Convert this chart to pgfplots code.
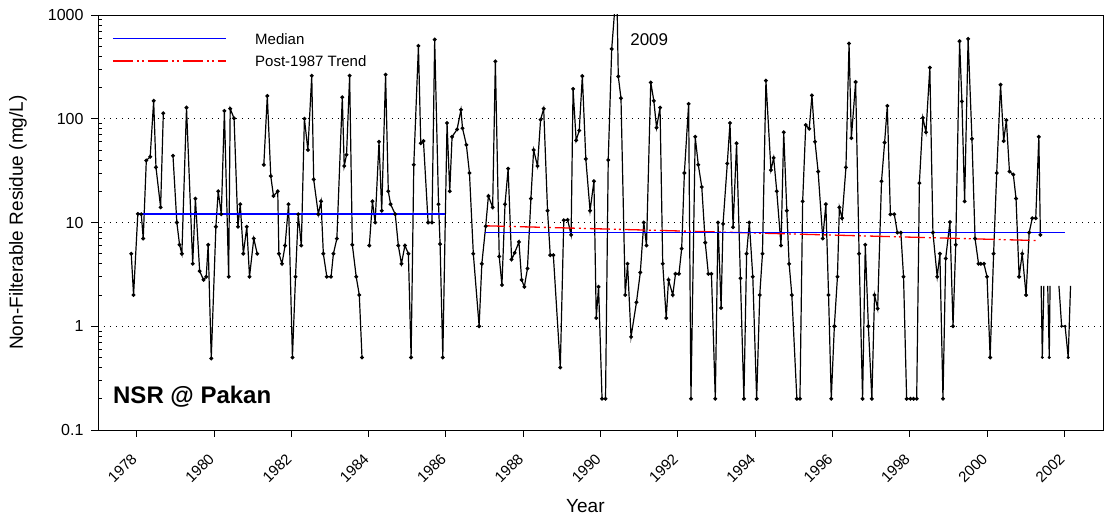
\documentclass[border=0pt]{standalone}
\usepackage{fontspec}
\setmainfont{Liberation Sans}
\usepackage{pgfplots}
\pgfplotsset{compat=1.18}
\definecolor{medblue}{RGB}{0,0,255}
\definecolor{trendred}{RGB}{255,0,0}
\tikzset{trendstyle/.style={trendred, line width=1.3pt, dash pattern=on 20pt off 4pt on 2pt off 3pt on 2pt off 4pt},
         medstyle/.style={medblue, line width=1.1pt}}
\begin{document}
\begin{tikzpicture}
\begin{axis}[
  name=ax,
  scale only axis,
  width=1005pt, height=415pt,
  xmin=1977, xmax=2003,
  ymode=log, ymin=0.1, ymax=1000,
  xtick={1978,1980,1982,1984,1986,1988,1990,1992,1994,1996,1998,2000,2002},
  xticklabels={1978,1980,1982,1984,1986,1988,1990,1992,1994,1996,1998,2000,2002},
  ytick={0.1,1,10,100,1000},
  yticklabels={0.1,1,10,100,1000},
  minor ytick={0.2,0.3,0.4,0.5,0.6,0.7,0.8,0.9,2,3,4,5,6,7,8,9,20,30,40,50,60,70,80,90,200,300,400,500,600,700,800,900},
  xtick pos=bottom, ytick pos=left,
  tick align=outside,
  major tick length=7pt,
  minor tick length=-4pt,
  tick style={black, line width=0.8pt},
  axis line style={black, line width=0.9pt},
  ymajorgrids,
  grid style={black, line width=0.9pt, dash pattern=on 1.1pt off 4.9pt},
  /pgf/number format/assume math mode=true,
  yticklabel style={font=\fontsize{16}{18}\selectfont},
  yticklabel shift=4pt,
  xticklabel style={rotate=45, anchor=east, font=\fontsize{15}{17}\selectfont},
  xticklabel shift=17pt,
  unbounded coords=jump,
  xlabel={Year},
  xlabel style={at={(axis description cs:0.485,-0.183)}, anchor=center, font=\fontsize{19}{21}\selectfont},
  ylabel={Non-Filterable Residue (mg/L)},
  ylabel style={at={(axis description cs:-0.0796,0.5)}, anchor=center, font=\fontsize{19}{21}\selectfont},
]
\addplot[black, line width=1.2pt, mark=*, mark size=1.3pt, mark options={fill=black, solid}] coordinates {
(1977.86,5.0) (1977.92,2.0) (1978.03,12.1) (1978.12,12) (1978.17,7.0) (1978.25,39.6) (1978.35,43) (1978.44,149) (1978.50,34) (1978.62,14) (1978.69,113)
(1978.8,nan)
(1978.94,44) (1979.04,10) (1979.11,6.1) (1979.17,5.0) (1979.29,128) (1979.45,4.0) (1979.52,17) (1979.63,3.4) (1979.73,2.8) (1979.80,3.0) (1979.85,6.1) (1979.93,0.49) (1980.05,9.1) (1980.11,20) (1980.19,12) (1980.27,119) (1980.38,3.0) (1980.42,125) (1980.52,101) (1980.62,9.1) (1980.68,15) (1980.76,5.0) (1980.85,9.1) (1980.92,3.0) (1981.03,7.0) (1981.12,5.0)
(1981.2,nan)
(1981.29,36) (1981.38,166) (1981.47,28) (1981.54,18) (1981.65,20) (1981.68,5.0) (1981.76,4.0) (1981.84,6.0) (1981.93,15) (1982.03,0.5) (1982.11,3.0) (1982.18,12) (1982.26,6.0) (1982.34,100) (1982.43,50) (1982.53,260) (1982.58,26) (1982.70,12) (1982.77,16) (1982.83,5) (1982.92,3) (1983.03,3) (1983.09,5) (1983.18,7) (1983.32,161) (1983.37,35) (1983.43,45) (1983.51,260) (1983.58,6.1) (1983.68,3) (1983.76,2.0) (1983.83,0.5)
(1983.9,nan)
(1984.02,6.0) (1984.10,16) (1984.17,10) (1984.27,60) (1984.34,13) (1984.44,266) (1984.51,20) (1984.57,15) (1984.69,12) (1984.77,6) (1984.85,4) (1984.94,6) (1985.03,5) (1985.10,0.5) (1985.17,36) (1985.29,504) (1985.35,58) (1985.42,61) (1985.54,10) (1985.64,10) (1985.71,580) (1985.81,15) (1985.85,6.2) (1985.92,0.5) (1986.03,91) (1986.10,20) (1986.16,67) (1986.29,79) (1986.39,122) (1986.43,81) (1986.53,56) (1986.61,30) (1986.71,5) (1986.86,1.0) (1986.93,4.0)
(1987.03,9.2) (1987.10,18) (1987.21,14) (1987.28,358) (1987.38,4.7) (1987.45,2.5) (1987.53,15) (1987.61,33) (1987.70,4.4) (1987.78,5.1) (1987.89,6.5) (1987.96,2.8) (1988.03,2.4) (1988.11,3.6) (1988.20,17) (1988.27,50) (1988.37,35) (1988.45,98) (1988.53,125) (1988.63,13) (1988.70,4.85) (1988.78,4.85) (1988.96,0.40) (1989.05,10.5) (1989.15,10.6) (1989.24,7.6) (1989.29,194) (1989.37,62) (1989.45,77) (1989.53,258) (1989.62,41) (1989.73,13) (1989.83,25) (1989.89,1.2) (1989.95,2.4)
(1990.04,0.2) (1990.13,0.2) (1990.20,40) (1990.29,471) (1990.42,2009) (1990.46,256) (1990.53,158) (1990.64,2.0) (1990.70,4.0) (1990.79,0.79) (1990.93,1.7) (1991.03,3.3) (1991.12,10) (1991.19,6) (1991.30,224) (1991.38,149) (1991.45,82) (1991.54,128) (1991.61,4) (1991.70,1.2) (1991.76,2.8) (1991.87,2.0) (1991.94,3.2)
(1992.03,3.2) (1992.10,5.6) (1992.17,30) (1992.28,139) (1992.34,0.2) (1992.45,67) (1992.53,36) (1992.62,22) (1992.71,6.4) (1992.79,3.2) (1992.87,3.2) (1992.97,0.2) (1993.04,10) (1993.12,1.5) (1993.17,9.7) (1993.28,37) (1993.35,91) (1993.43,9.0) (1993.52,58) (1993.62,2.9) (1993.71,0.2) (1993.78,5) (1993.85,10) (1993.94,3)
(1994.04,0.2) (1994.12,2) (1994.19,5) (1994.28,233) (1994.41,32) (1994.48,42) (1994.56,20) (1994.67,6) (1994.74,74) (1994.82,13) (1994.88,4) (1994.95,2) (1995.08,0.2) (1995.16,0.2) (1995.23,16) (1995.31,87) (1995.40,80) (1995.47,168) (1995.55,60) (1995.63,31) (1995.75,7) (1995.83,15) (1995.90,2) (1995.97,0.2)
(1996.05,1.0) (1996.13,3) (1996.18,14) (1996.25,11) (1996.35,34) (1996.43,531) (1996.49,65) (1996.60,226) (1996.69,5) (1996.78,0.2) (1996.85,6.1) (1996.93,1.0) (1997.02,0.2) (1997.09,2.0) (1997.17,1.48) (1997.27,25) (1997.35,59) (1997.42,133) (1997.50,12) (1997.60,12) (1997.68,8.0) (1997.77,8.0) (1997.84,3) (1997.92,0.2)
(1998.02,0.2) (1998.10,0.2) (1998.18,0.2) (1998.25,24) (1998.34,102) (1998.42,74) (1998.52,311) (1998.60,8) (1998.71,3) (1998.78,5) (1998.86,0.2) (1998.93,4.5) (1999.04,10.1) (1999.12,1.0) (1999.19,6.1) (1999.29,559) (1999.35,147) (1999.42,16) (1999.51,589) (1999.61,64) (1999.69,7) (1999.78,4) (1999.84,4) (1999.92,4)
(2000.00,3) (2000.08,0.5) (2000.17,5) (2000.25,30) (2000.35,213) (2000.43,61) (2000.50,97) (2000.58,31) (2000.68,29) (2000.75,17) (2000.83,3) (2000.91,5) (2001.01,2) (2001.09,8) (2001.17,11) (2001.26,11) (2001.34,67) (2001.38,7.6)
};
\addplot[black, line width=1.2pt] coordinates {
(2001.40,2.45) (2001.43,0.5) (2001.47,2.45) (2001.52,nan) (2001.57,2.45) (2001.61,0.5) (2001.63,2.45) (2001.7,nan) (2001.86,2.45) (2001.93,1.0) (2002.02,1.0) (2002.10,0.5) (2002.16,2.45)
};
\addplot[only marks, mark=*, mark size=1.3pt, mark options={fill=black}] coordinates {
(2001.43,0.5) (2001.61,0.5) (2001.93,1.0) (2002.02,1.0) (2002.10,0.5)
};
\addplot[medstyle] coordinates {(1978.03,12.08) (1985.98,12.08)};
\addplot[trendstyle] coordinates {(1987.01,9.3) (2001.3,6.7)};
\addplot[medstyle] coordinates {(1987.01,8) (2002.02,8)};
% legend
\draw[medstyle] (axis description cs:0.0149,0.9435) -- (axis description cs:0.1274,0.9435);
\node[anchor=west, inner sep=0pt, font=\fontsize{15}{17}\selectfont] at (axis description cs:0.1562,0.9422) {Median};
\draw[trendstyle] (axis description cs:0.0149,0.8892) -- (axis description cs:0.1274,0.8892);
\node[anchor=west, inner sep=0pt, font=\fontsize{15}{17}\selectfont] at (axis description cs:0.1562,0.8892) {Post-1987 Trend};
\node[font=\fontsize{17}{19}\selectfont, anchor=center] at (axis cs:1991.26,581) {2009};
\node[font=\bfseries\fontsize{24}{27}\selectfont, anchor=base west, inner sep=0pt] at (axis description cs:0.0149,0.065) {NSR @ Pakan};
\end{axis}
\pgfresetboundingbox
\path ([xshift=-98pt,yshift=-87pt]ax.south west) rectangle ([xshift=2pt,yshift=15pt]ax.north east);
\end{tikzpicture}
\end{document}
